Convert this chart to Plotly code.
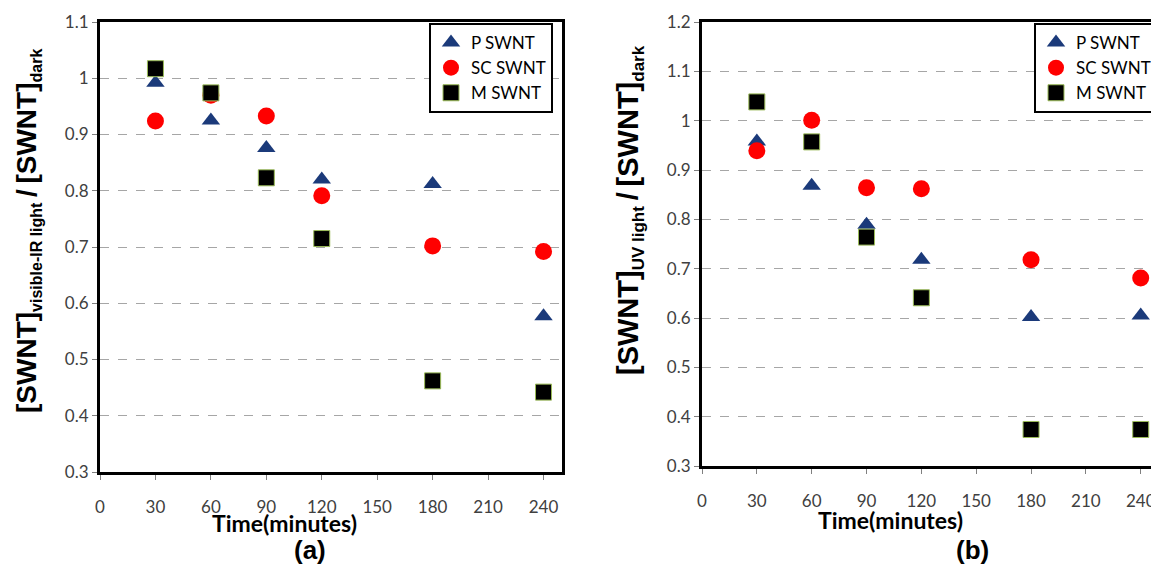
import plotly.graph_objects as go

time_min = [30, 60, 90, 120, 180, 240]
x_ticks = [0, 30, 60, 90, 120, 150, 180, 210, 240]

# Panel (a): visible-IR light
a_p = [0.992, 0.925, 0.876, 0.820, 0.812, 0.577]
a_sc = [0.924, 0.970, 0.933, 0.791, 0.702, 0.692]
a_m = [1.017, 0.974, 0.823, 0.715, 0.462, 0.442]

# Panel (b): UV light
b_p = [0.958, 0.868, 0.789, 0.718, 0.602, 0.605]
b_sc = [0.939, 1.001, 0.864, 0.862, 0.718, 0.681]
b_m = [1.038, 0.957, 0.764, 0.641, 0.374, 0.374]

series_names = ["P SWNT", "SC SWNT", "M SWNT"]

# page body has an 8px margin; figure sized to fit the window
OFF = 8
W, H = 1159 - OFF, 567 - OFF
TICKFONT = dict(family="Lato, Open Sans, sans-serif", size=17, color="#404040")

fig = go.Figure()

styles = [
    dict(symbol="triangle-up", size=16, color="#1B3A7A", line=dict(color="#1B3A7A", width=0)),
    dict(symbol="circle", size=17, color="#FF0000", line=dict(color="#FF0000", width=0)),
    dict(symbol="square", size=16, color="#000000", line=dict(color="#9BBB59", width=1)),
]

for vals, axes, leg in [((a_p, a_sc, a_m), ("x", "y"), "legend"),
                        ((b_p, b_sc, b_m), ("x2", "y2"), "legend2")]:
    for name, v, st in zip(series_names, vals, styles):
        fig.add_trace(go.Scatter(
            x=time_min, y=v, mode="markers", name=name,
            marker=st, xaxis=axes[0], yaxis=axes[1], legend=leg,
        ))

def px_x(p):
    return (p - OFF) / W

def px_y(p):
    return (H - (p - OFF)) / H

axis_common = dict(
    showline=True, linewidth=3, linecolor="black", mirror=True,
    ticks="outside", ticklen=5, tickcolor="#808080", tickwidth=1,
    tickfont=TICKFONT, zeroline=False, automargin=False,
)

legend_common = dict(
    xanchor="left", yanchor="top",
    bgcolor="white", bordercolor="black", borderwidth=2,
    font=dict(family="Lato, Open Sans, sans-serif", size=17, color="black"),
    itemwidth=30,
)

fig.update_layout(
    width=W, height=H,
    margin=dict(l=0, r=0, t=0, b=0, autoexpand=False),
    paper_bgcolor="white", plot_bgcolor="white",
    xaxis=dict(domain=[px_x(100), px_x(562)], range=[0, 250],
               tickvals=x_ticks, showgrid=False, anchor="y",
               ticklabelstandoff=13, **axis_common),
    yaxis=dict(domain=[px_y(472), px_y(22)], range=[0.3, 1.1], dtick=0.1,
               tick0=0.3, showgrid=True, gridcolor="#A6A6A6", griddash="dash",
               gridwidth=1, anchor="x", **axis_common),
    xaxis2=dict(domain=[px_x(702), 1.0], range=[0, 250],
                tickvals=x_ticks, showgrid=False, anchor="y2",
                ticklabelstandoff=13, **axis_common),
    yaxis2=dict(domain=[px_y(466), px_y(22)], range=[0.3, 1.2], dtick=0.1,
                tick0=0.3, showgrid=True, gridcolor="#A6A6A6", griddash="dash",
                gridwidth=1, anchor="x2", **axis_common),
    legend=dict(x=px_x(429), y=px_y(23), **legend_common),
    legend2=dict(x=px_x(1034), y=px_y(23), **legend_common),
    showlegend=True,
)

title_font = dict(family="Lato, Open Sans, sans-serif", size=23, color="black")
label_font = dict(family="Liberation Sans, Arial, sans-serif", size=26, color="black")

def sub(txt, size):
    return "<sub><span style='font-size:%dpx'>%s</span></sub>" % (size, txt)

SEP = "\u2009/\u2009"

annotations = [
    dict(text="<b>Time(minutes)</b>", x=px_x(284), y=px_y(523), font=title_font),
    dict(text="<b>(a)</b>", x=px_x(310), y=px_y(550), font=label_font),
    dict(text="<b>Time(minutes)</b>", x=px_x(890), y=px_y(520), font=title_font),
    dict(text="<b>(b)</b>", x=px_x(972), y=px_y(550), font=label_font),
    dict(text="<b>[SWNT]" + sub("visible-IR light", 16) + SEP + "[SWNT]" + sub("dark", 16) + "</b>",
         x=px_x(28), y=px_y(231), textangle=-90,
         font=dict(family="Liberation Sans, Arial, sans-serif", size=28, color="black")),
    dict(text="<b>[SWNT]" + sub("UV light", 17) + SEP + "[SWNT]" + sub("dark", 17) + "</b>",
         x=px_x(630), y=px_y(210), textangle=-90,
         font=dict(family="Liberation Sans, Arial, sans-serif", size=29, color="black")),
]
for a in annotations:
    fig.add_annotation(xref="paper", yref="paper", showarrow=False,
                       xanchor="center", yanchor="middle", **a)

fig.write_html("out.html")
